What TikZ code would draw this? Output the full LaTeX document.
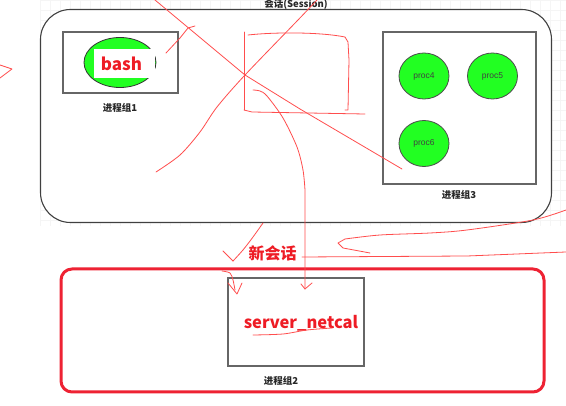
\documentclass[tikz,border=0pt]{standalone}
\usepackage{fontspec}
\usetikzlibrary{shapes.geometric}
\newfontfamily\cjk{Noto Sans CJK SC}
\newfontfamily\procfont{Liberation Sans}
\definecolor{redtxt}{HTML}{EE1C25}
\definecolor{redbox}{HTML}{EE2233}
\definecolor{scrib}{HTML}{FF4D4D}
\definecolor{procgreen}{HTML}{22FF22}
\definecolor{boxgray}{HTML}{666666}
\definecolor{gridc}{HTML}{F5F5F5}
\tikzset{
  gridline/.style={draw=gridc, line width=0.5},
  sessionbox/.style={draw=black!75, line width=1.1, fill=white, rounded corners=30, inner sep=0},
  groupbox/.style={draw=boxgray, line width=1.3, fill=white, inner sep=0},
  newbox/.style={draw=redbox, line width=3, rounded corners=11, inner sep=0},
  procnode/.style={ellipse, draw=black!70, line width=0.8, fill=procgreen, inner sep=0, font=\procfont\fontsize{8.5}{10}\selectfont, text=black!75},
  grouplabel/.style={font=\cjk\bfseries\fontsize{9.5}{11}\selectfont, text=black!85, inner sep=0},
  redlabel/.style={font=\cjk\bfseries\fontsize{16.5}{20}\selectfont, text=redtxt, inner sep=0},
  scribble/.style={draw=scrib, line width=0.8, line join=round, line cap=round},
}
\begin{document}
\begin{tikzpicture}[x=1pt,y=-1pt]
\useasboundingbox (0,0) rectangle (566,406);
\fill[white] (0,0) rectangle (566,406);
% faint grid
\begin{scope}
\clip (40,0) rectangle (566,226);
\foreach \i in {40,50,...,560} \draw[gridline] (\i,0) -- (\i,226);
\foreach \j in {0,10,...,220} \draw[gridline] (40,\j) -- (566,\j);
\end{scope}
% session
\node[sessionbox, minimum width=511, minimum height=213] (session) at (296,116) {};
\node[grouplabel] (title) at (296,4) {会话(Session)};
% group 1
\node[groupbox, minimum width=115, minimum height=61] (g1) at (120.5,62.5) {};
\node[ellipse, draw=black!80, line width=0.8, fill=procgreen, minimum width=72, minimum height=50, inner sep=0] (bashell) at (120,62.5) {};
\node[fill=white, minimum width=61, minimum height=29, inner sep=0] (bashbg) at (124.5,63.5) {};
\node[redlabel, font=\cjk\bfseries\fontsize{17}{20}\selectfont] (bash) at (121.5,64) {bash};
\node[grouplabel] (l1) at (120,108) {进程组1};
% group 3
\node[groupbox, minimum width=153, minimum height=152] (g3) at (459.5,108) {};
\node[procnode, minimum width=50, minimum height=46] (p4) at (424,76) {proc4};
\node[procnode, minimum width=50, minimum height=46] (p5) at (492.5,76) {proc5};
\node[procnode, minimum width=50, minimum height=46] (p6) at (424,143.5) {proc6};
\node[grouplabel] (l3) at (459,195) {进程组3};
% new session
\node[newbox, minimum width=483, minimum height=123] (newsess) at (302.5,330.5) {};
\node[groupbox, minimum width=136, minimum height=88] (g2) at (296,322) {};
\node[redlabel] (srv) at (301,323) {server\_netcal};
\node[grouplabel] (l2) at (281,381) {进程组2};
\node[font=\cjk\bfseries\fontsize{16}{18}\selectfont, text=redtxt, inner sep=0] (newlbl) at (272.5,253) {新会话};
% scribbles
\draw[scribble] (0,65) -- (12,69) -- (0,78);
\draw[scribble] (166,53) -- (180,38) -- (188,28) -- (195,26);
\draw[scribble] plot[smooth] coordinates {(156,172) (180,155) (200,132) (217,107) (245,75) (298,20) (317,0)};
\draw[scribble] (155,0) -- (245,75) -- (300,109) -- (402,169);
\draw[scribble] (244,32) -- (244,110);
\draw[scribble] (248,35) .. controls (275,32) and (320,32) .. (345,37) -- (348,42) -- (349,60) -- (348,110) -- (345,110);
\draw[scribble] (244,110) -- (252,112) -- (365,114);
\draw[scribble] plot[smooth] coordinates {(253,90) (260,91) (267,96) (283,118) (297,147) (303,170) (305,190)} -- (305,289);
\draw[scribble] (301,284) -- (305,289) -- (312,283);
\draw[scribble] plot[smooth] coordinates {(263,223) (253,237) (243,250) (233,261)};
\draw[scribble] (223,251) -- (233,261);
\draw[scribble] plot[smooth] coordinates {(222,271) (230,273) (233,280) (235,290)};
\draw[scribble] (228,283) -- (237,294) -- (242,283);
\draw[scribble] plot[smooth] coordinates {(566,210) (533,220) (467,230) (430,233) (380,235) (345,239)} -- (338,243) -- (343,248) -- (370,253);
\draw[scribble] (302,257) -- (467,256) -- (566,252);
\draw[scribble] plot[smooth] coordinates {(253,335) (283,334) (307,330) (332,328)};
\end{tikzpicture}
\end{document}
